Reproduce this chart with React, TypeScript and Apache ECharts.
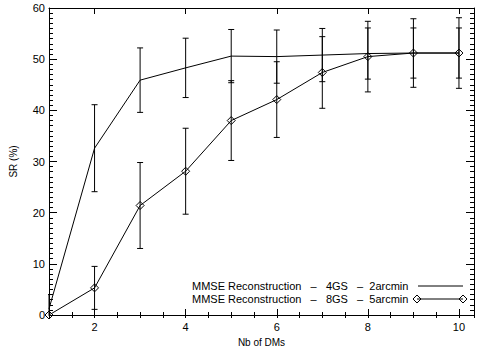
import React, { useEffect, useRef } from "react";
import * as echarts from "echarts";

const dms = [1, 2, 3, 4, 5, 6, 7, 8, 9, 10];
const sr4gs = [1.2, 32.6, 45.9, 48.3, 50.6, 50.5, 50.8, 51.1, 51.2, 51.2];
const err4gs = [2.8, 8.5, 6.3, 5.8, 5.2, 5.2, 5.2, 5.0, 4.9, 4.9];
const sr8gs = [0, 5.3, 21.4, 28.1, 38.0, 42.1, 47.4, 50.5, 51.2, 51.2];
const err8gs = [0, 4.2, 8.4, 8.4, 7.8, 7.4, 7.0, 6.9, 6.7, 6.9];
const xMajorTicks = [2, 4, 6, 8, 10];
const legendLabels = [
  "MMSE Reconstruction   \u2013   4GS   \u2013  2arcmin",
  "MMSE Reconstruction   \u2013   8GS   \u2013  5arcmin",
];

const FONT = "Liberation Sans";

function errData(vals: number[], errs: number[]) {
  return dms
    .map((x, i) => [x, vals[i] - errs[i], vals[i] + errs[i]])
    .filter((_, i) => errs[i] > 0);
}

const renderErr = (params: any, api: any) => {
  const x = api.value(0);
  const lo = api.coord([x, api.value(1)]);
  const hi = api.coord([x, api.value(2)]);
  const cap = 3;
  const style = { stroke: "#000", lineWidth: 1 };
  return {
    type: "group",
    children: [
      { type: "line", shape: { x1: lo[0], y1: lo[1], x2: hi[0], y2: hi[1] }, style },
      { type: "line", shape: { x1: lo[0] - cap, y1: lo[1], x2: lo[0] + cap, y2: lo[1] }, style },
      { type: "line", shape: { x1: hi[0] - cap, y1: hi[1], x2: hi[0] + cap, y2: hi[1] }, style },
    ],
  };
};

export default function App() {
  const ref = useRef<HTMLDivElement>(null);
  useEffect(() => {
    if (!ref.current) return;
    const chart = echarts.init(ref.current, null, { renderer: "svg" });
    const xMin = 1;
    const xMax = 10.33;
    const black = "#000";
    const baseX = {
      type: "value",
      min: xMin,
      max: xMax,
      splitLine: { show: false },
      axisLine: { show: true, onZero: false, lineStyle: { color: black, width: 1 } },
    };
    const majorX = (pos: string, labels: boolean) => ({
      ...baseX,
      position: pos,
      axisTick: { show: true, inside: true, length: 6, customValues: xMajorTicks, lineStyle: { color: black } },
      axisLabel: labels
        ? { show: true, customValues: xMajorTicks, color: black, fontFamily: FONT, fontSize: 11, margin: 6 }
        : { show: false },
    });
    const minorX = (pos: string) => ({
      ...baseX,
      position: pos,
      interval: 0.5,
      axisLine: { show: false },
      axisTick: { show: true, inside: true, length: 3, lineStyle: { color: black } },
      axisLabel: { show: false },
    });
    const yAx = (pos: string, labels: boolean) => ({
      type: "value",
      position: pos,
      min: 0,
      max: 60,
      interval: 10,
      splitLine: { show: false },
      axisLine: { show: true, onZero: false, lineStyle: { color: black, width: 1 } },
      axisTick: { show: true, inside: true, length: 8, lineStyle: { color: black } },
      minorTick: { show: true, splitNumber: 10, length: 4, lineStyle: { color: black } },
      axisLabel: labels
        ? { show: true, color: black, fontFamily: FONT, fontSize: 11, margin: 4 }
        : { show: false },
      ...(labels
        ? {
            name: "SR (%)",
            nameLocation: "middle",
            nameGap: 31,
            nameTextStyle: { color: black, fontFamily: FONT, fontSize: 10 },
          }
        : {}),
    });

    const diamond = (cx: number, cy: number) => ({
      type: "polygon",
      shape: { points: [[cx, cy - 4], [cx + 4, cy], [cx, cy + 4], [cx - 4, cy]] },
      style: { fill: "none", stroke: black, lineWidth: 1 },
    });

    chart.setOption({
      animation: false,
      grid: { left: 44, right: 5, top: 8, bottom: 32 },
      xAxis: [
        {
          ...majorX("bottom", true),
          name: "Nb of DMs",
          nameLocation: "middle",
          nameGap: 22,
          nameTextStyle: { color: black, fontFamily: FONT, fontSize: 10 },
        },
        minorX("bottom"),
        majorX("top", false),
        minorX("top"),
      ],
      yAxis: [yAx("left", true), yAx("right", false)],
      series: [
        {
          type: "custom",
          name: "err4gs",
          renderItem: renderErr,
          data: errData(sr4gs, err4gs),
          clip: true,
          encode: { x: 0, y: [1, 2] },
          z: 1,
        },
        {
          type: "custom",
          name: "err8gs",
          renderItem: renderErr,
          data: errData(sr8gs, err8gs),
          clip: true,
          encode: { x: 0, y: [1, 2] },
          z: 1,
        },
        {
          type: "line",
          name: legendLabels[0],
          data: dms.map((x, i) => [x, sr4gs[i]]),
          symbol: "none",
          lineStyle: { color: black, width: 1 },
          z: 2,
        },
        {
          type: "line",
          name: legendLabels[1],
          data: dms.map((x, i) => [x, sr8gs[i]]),
          symbol: "diamond",
          symbolSize: 8,
          itemStyle: { color: "none", borderColor: black, borderWidth: 1 },
          lineStyle: { color: black, width: 1 },
          z: 3,
        },
      ],
      graphic: [
        {
          type: "text",
          x: 192,
          y: 286,
          style: { text: legendLabels[0], font: `11px "${FONT}"`, fill: black, verticalAlign: "middle", align: "left" },
        },
        {
          type: "line",
          shape: { x1: 418, y1: 286, x2: 463, y2: 286 },
          style: { stroke: black, lineWidth: 1 },
        },
        {
          type: "text",
          x: 192,
          y: 299,
          style: { text: legendLabels[1], font: `11px "${FONT}"`, fill: black, verticalAlign: "middle", align: "left" },
        },
        {
          type: "line",
          shape: { x1: 417, y1: 299, x2: 463, y2: 299 },
          style: { stroke: black, lineWidth: 1 },
        },
        diamond(417, 299),
        diamond(463, 299),
      ],
    });
    return () => chart.dispose();
  }, []);
  return (
    <div
      ref={ref}
      style={{ position: "fixed", left: 0, top: 0, width: 479, height: 352, background: "#fff" }}
    />
  );
}
